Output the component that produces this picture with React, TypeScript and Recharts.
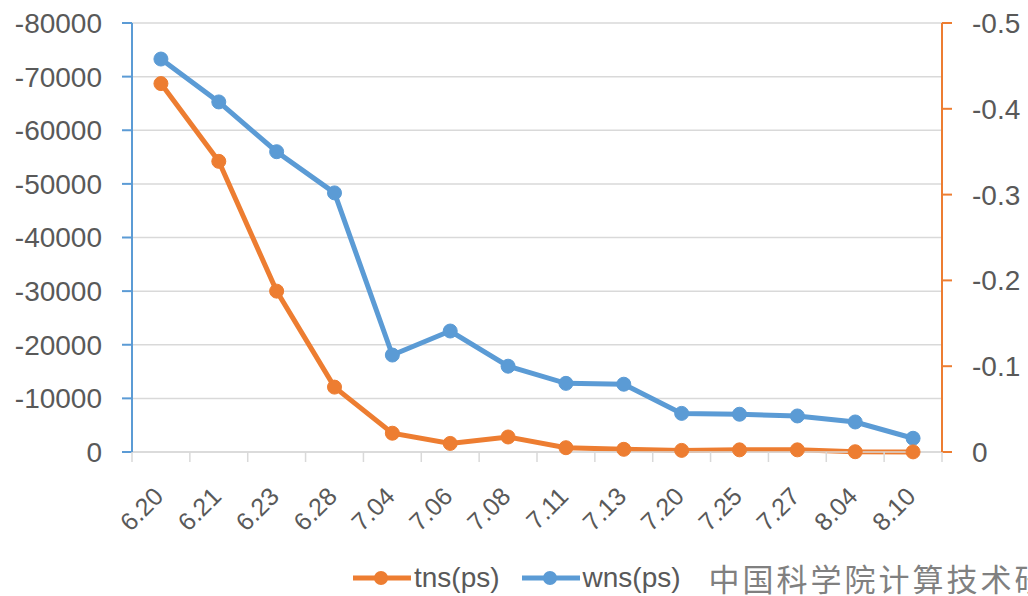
import { CartesianGrid, Line, LineChart, XAxis, YAxis } from 'recharts';

const dates = ['6.20', '6.21', '6.23', '6.28', '7.04', '7.06', '7.08', '7.11', '7.13', '7.20', '7.25', '7.27', '8.04', '8.10'];
const tns = [-68700, -54200, -30000, -12100, -3500, -1600, -2800, -800, -500, -300, -400, -400, -50, -20];
const wns = [-0.458, -0.408, -0.35, -0.302, -0.113, -0.141, -0.1, -0.08, -0.079, -0.045, -0.044, -0.042, -0.035, -0.016];
const tnsTicks = [0, -10000, -20000, -30000, -40000, -50000, -60000, -70000, -80000];
const wnsTicks = [0, -0.1, -0.2, -0.3, -0.4, -0.5];

const data = dates.map((date, i) => ({ date, tns: tns[i], wns: wns[i] }));

const ORANGE = '#ED7D31';
const BLUE = '#5B9BD5';
const GRID = '#D9D9D9';
const TEXT = '#595959';
const FONT = '"Liberation Sans", Arial, sans-serif';

const W = 1028;
const H = 596;
const LEFT_W = 132;
const RIGHT_W = 86;
const BAND = (W - LEFT_W - RIGHT_W) / dates.length;

// category labels sit at band centres, tick marks go on the band edges
function DateTick(props: any) {
  const { x, y, payload, index } = props;
  return (
    <g>
      <line x1={x - BAND / 2} x2={x - BAND / 2} y1={y} y2={y + 10} stroke={GRID} strokeWidth={1.5} />
      {index === dates.length - 1 && (
        <line x1={x + BAND / 2} x2={x + BAND / 2} y1={y} y2={y + 10} stroke={GRID} strokeWidth={1.5} />
      )}
      <text
        transform={`translate(${x + 4},${y + 46}) rotate(-45)`}
        textAnchor="end"
        fill={TEXT}
        fontSize={25}
        fontFamily={FONT}
      >
        {payload.value}
      </text>
    </g>
  );
}

function LegendItem({ color, label }: { color: string; label: string }) {
  return (
    <span style={{ display: 'inline-flex', alignItems: 'center', marginRight: 22 }}>
      <svg width={58} height={16} style={{ marginRight: 3 }}>
        <line x1={0} x2={58} y1={8} y2={8} stroke={color} strokeWidth={5} />
        <circle cx={28} cy={8} r={7} fill={color} />
      </svg>
      <span>{label}</span>
    </span>
  );
}

export default function App() {
  return (
    <div style={{ position: 'absolute', left: 0, top: 0, width: W, height: H, overflow: 'hidden', background: '#fff', fontFamily: FONT }}>
      <LineChart width={W} height={H} data={data} margin={{ top: 23, right: 0, bottom: 0, left: 0 }}>
        <CartesianGrid yAxisId="left" vertical={false} stroke={GRID} strokeWidth={1.5} />
        <XAxis
          dataKey="date"
          height={H - 452}
          padding={{ left: BAND / 2, right: BAND / 2 }}
          tickLine={false}
          tickSize={0}
          tickMargin={0}
          axisLine={{ stroke: GRID, strokeWidth: 1.5 }}
          interval={0}
          tick={<DateTick />}
        />
        <YAxis
          yAxisId="left"
          width={LEFT_W}
          domain={[-80000, 0]}
          ticks={tnsTicks}
          reversed
          interval={0}
          axisLine={{ stroke: BLUE, strokeWidth: 2 }}
          tickLine={{ stroke: BLUE, strokeWidth: 2 }}
          tickSize={10}
          tickMargin={20}
          tick={{ fill: TEXT, fontSize: 28, fontFamily: FONT }}
        />
        <YAxis
          yAxisId="right"
          orientation="right"
          width={RIGHT_W}
          domain={[-0.5, 0]}
          ticks={wnsTicks}
          reversed
          interval={0}
          axisLine={{ stroke: ORANGE, strokeWidth: 2 }}
          tickLine={{ stroke: ORANGE, strokeWidth: 2 }}
          tickSize={10}
          tickMargin={20}
          tick={{ fill: TEXT, fontSize: 28, fontFamily: FONT }}
        />
        <Line
          yAxisId="right"
          dataKey="wns"
          stroke={BLUE}
          strokeWidth={5}
          dot={{ r: 7, fill: BLUE, stroke: BLUE, strokeWidth: 1 }}
          activeDot={false}
          isAnimationActive={false}
        />
        <Line
          yAxisId="left"
          dataKey="tns"
          stroke={ORANGE}
          strokeWidth={5}
          dot={{ r: 7, fill: ORANGE, stroke: ORANGE, strokeWidth: 1 }}
          activeDot={false}
          isAnimationActive={false}
        />
      </LineChart>
      <div
        style={{
          position: 'absolute',
          left: 353,
          top: 561,
          display: 'flex',
          alignItems: 'center',
          whiteSpace: 'nowrap',
          fontSize: 28,
          color: TEXT,
          lineHeight: '34px',
        }}
      >
        <LegendItem color={ORANGE} label="tns(ps)" />
        <LegendItem color={BLUE} label="wns(ps)" />
        <span style={{ marginLeft: 6, fontSize: 31, letterSpacing: 3, color: '#808080', fontFamily: '"Noto Sans CJK SC", sans-serif' }}>
          中国科学院计算技术研究所
        </span>
      </div>
    </div>
  );
}
